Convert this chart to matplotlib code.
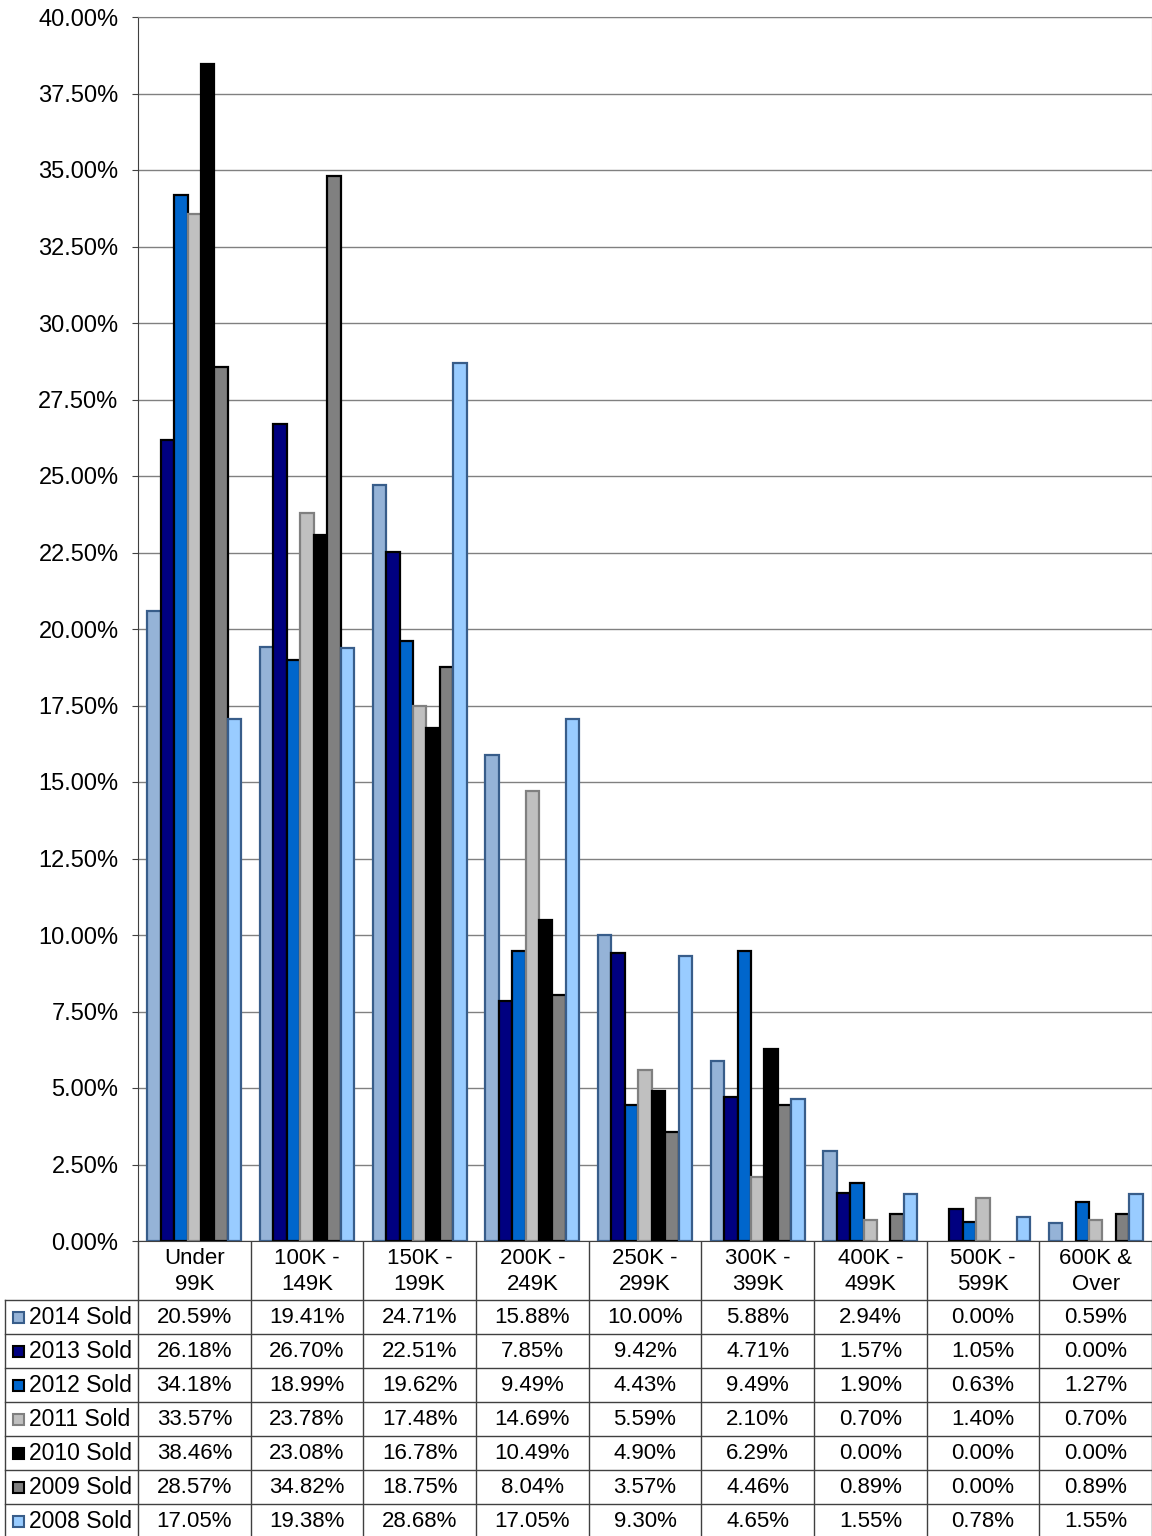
import numpy as np
import matplotlib
matplotlib.use("Agg")
import matplotlib.pyplot as plt
from matplotlib.patches import Rectangle
from matplotlib.ticker import FuncFormatter, MultipleLocator

plt.rcParams['font.family'] = ['Liberation Sans', 'DejaVu Sans']

categories = ["Under\n99K", "100K -\n149K", "150K -\n199K", "200K -\n249K", "250K -\n299K",
              "300K -\n399K", "400K -\n499K", "500K -\n599K", "600K &\nOver"]
series_names = ["2014 Sold", "2013 Sold", "2012 Sold", "2011 Sold", "2010 Sold", "2009 Sold", "2008 Sold"]

sold_2014 = [20.59, 19.41, 24.71, 15.88, 10.00, 5.88, 2.94, 0.00, 0.59]
sold_2013 = [26.18, 26.70, 22.51, 7.85, 9.42, 4.71, 1.57, 1.05, 0.00]
sold_2012 = [34.18, 18.99, 19.62, 9.49, 4.43, 9.49, 1.90, 0.63, 1.27]
sold_2011 = [33.57, 23.78, 17.48, 14.69, 5.59, 2.10, 0.70, 1.40, 0.70]
sold_2010 = [38.46, 23.08, 16.78, 10.49, 4.90, 6.29, 0.00, 0.00, 0.00]
sold_2009 = [28.57, 34.82, 18.75, 8.04, 3.57, 4.46, 0.89, 0.00, 0.89]
sold_2008 = [17.05, 19.38, 28.68, 17.05, 9.30, 4.65, 1.55, 0.78, 1.55]

series = [sold_2014, sold_2013, sold_2012, sold_2011, sold_2010, sold_2009, sold_2008]
faces = ["#95B3D7", "#000080", "#0066CC", "#C0C0C0", "#000000", "#808080", "#99CCFF"]
edges = ["#385D8A", "#000000", "#000000", "#808080", "#000000", "#000000", "#385D8A"]

W, H = 1152, 1536
fig = plt.figure(figsize=(W / 100, H / 100), dpi=100)

# plot area (pixel layout of the original)
px_left, px_right, px_top, px_bottom = 138, 1152, 17, 1241
ax = fig.add_axes([px_left / W, 1 - px_bottom / H, (px_right - px_left) / W, (px_bottom - px_top) / H])

n = len(categories)
x = np.arange(n)
bw = 0.119
for i, (vals, fc, ec) in enumerate(zip(series, faces, edges)):
    off = (i - 3) * bw
    lws = [1.6 if v > 0 else 0 for v in vals]  # empty bars show no outline
    ax.bar(x + off, vals, width=bw, color=fc, edgecolor=ec, linewidth=lws, zorder=3)

ax.set_xlim(-0.5, n - 0.5)
ax.set_ylim(0, 40)
ax.yaxis.set_major_locator(MultipleLocator(2.5))
ax.yaxis.set_major_formatter(FuncFormatter(lambda v, p: "%.2f%%" % v))
ax.tick_params(axis='y', labelsize=17, length=4, color='#404040', pad=10)
ax.set_xticks([])
ax.grid(axis='y', color='#808080', linewidth=1.0, zorder=0)
for s in ['top', 'right']:
    ax.spines[s].set_color('#808080')
ax.spines['left'].set_color('#404040')
ax.spines['bottom'].set_color('#404040')

# data table below the chart
tx = fig.add_axes([0, 0, 1, 1 - px_bottom / H])
tx.set_xlim(0, W)
tx.set_ylim(H, px_bottom)
tx.axis('off')

cw = (px_right - px_left) / n
head_bot = 1300
rh = 34
lc = '#404040'

# header row
for j, cat in enumerate(categories):
    tx.text(px_left + cw * (j + 0.5), (px_bottom + head_bot) / 2 + 1, cat,
            ha='center', va='center', fontsize=16, linespacing=1.3)
for j in range(n + 1):
    tx.plot([px_left + cw * j] * 2, [px_bottom, H], color=lc, lw=1.0)
tx.plot([5, W], [head_bot, head_bot], color=lc, lw=1.0)
tx.plot([5, 5], [head_bot, H], color=lc, lw=1.0)

for r, (name, vals, fc, ec) in enumerate(zip(series_names, series, faces, edges)):
    y0 = head_bot + rh * r
    yc = y0 + rh / 2
    tx.plot([5, W], [y0 + rh, y0 + rh], color=lc, lw=1.0)
    tx.add_patch(Rectangle((13, yc - 5.5), 11, 11, facecolor=fc, edgecolor=ec, lw=1.5))
    tx.text(29, yc, name, ha='left', va='center', fontsize=16.5)
    for j, v in enumerate(vals):
        tx.text(px_left + cw * (j + 0.5), yc, "%.2f%%" % v, ha='center', va='center', fontsize=16)

fig.savefig("out.png", dpi=100)
